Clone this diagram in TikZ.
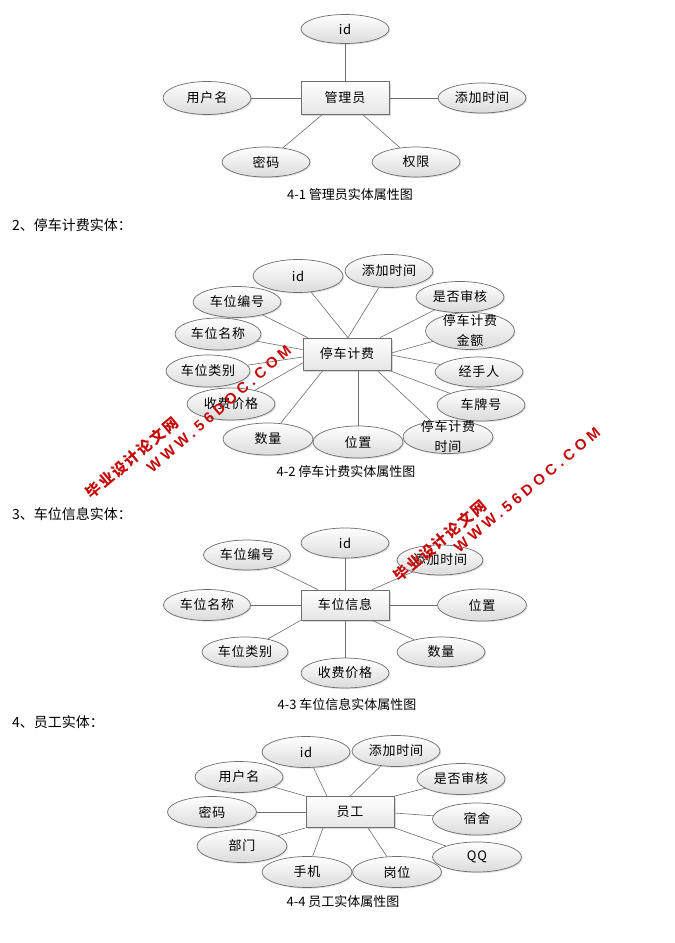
\documentclass[tikz,border=0pt]{standalone}
\usepackage{fontspec}
\usetikzlibrary{shapes.geometric,shadows}
\newfontfamily\cjk{Noto Sans CJK SC}
\newfontfamily\cjklab[LetterSpace=6]{Noto Sans CJK SC}
\newfontfamily\cjkwm[LetterSpace=12]{Noto Sans CJK SC}
\newfontfamily\wmlat[LetterSpace=28]{Liberation Sans}
\definecolor{wmred}{RGB}{196,10,10}
\definecolor{edgegray}{RGB}{110,110,110}
\tikzset{
  attr/.style={ellipse, draw=edgegray, line width=0.7pt, top color=white, bottom color=black!14,
    minimum width=88pt, minimum height=31pt, inner sep=0pt,
    font=\cjklab\fontsize{13}{20}\selectfont, text=black,
    drop shadow={shadow xshift=1.2pt, shadow yshift=-1.2pt, opacity=0.25}},
  ent/.style={rectangle, draw=edgegray, line width=0.7pt, top color=white, bottom color=black!10,
    minimum width=88pt, minimum height=32pt, inner sep=0pt,
    font=\cjklab\fontsize{13}{15}\selectfont, text=black,
    drop shadow={shadow xshift=1.5pt, shadow yshift=-1.5pt, opacity=0.3}},
  conn/.style={draw=edgegray, line width=0.6pt},
  capt/.style={font=\cjk\fontsize{13}{15}\selectfont, text=black, inner sep=0pt},
  headtxt/.style={font=\cjk\fontsize{14}{16}\selectfont, text=black, anchor=west, inner sep=0pt},
  wmlatin/.style={font=\wmlat\bfseries\fontsize{15}{17}\selectfont, text=wmred, inner sep=0pt},
  wmcjk/.style={font=\cjkwm\bfseries\fontsize{15}{17}\selectfont, text=wmred, inner sep=0pt},
  twoline/.style={label={[font=\cjklab\fontsize{13}{20}\selectfont, text=black, align=center]center:#1}}
}
\begin{document}
\begin{tikzpicture}[x=1pt,y=-1pt]
\useasboundingbox[fill=white] (0,0) rectangle (675,943);

% ---------- 4-1 ----------
\node[ent, minimum height=33pt] (b1) at (345,98) {管理员};
\node[attr, minimum height=29pt] (b1id) at (345,29) {id};
\node[attr, minimum height=33pt] (b1yh) at (207,98) {用户名};
\node[attr, minimum height=30pt] (b1tj) at (482,98) {添加时间};
\node[attr, minimum height=30pt] (b1mm) at (266,162) {密码};
\node[attr, minimum height=30pt] (b1qx) at (416,162) {权限};
\draw[conn] (b1id) -- (b1);
\draw[conn] (b1yh) -- (b1);
\draw[conn] (b1tj) -- (b1);
\draw[conn] ([xshift=-23pt]b1.south) -- (b1mm);
\draw[conn] ([xshift=18pt]b1.south) -- (b1qx);
\node[capt] (c1) at (350,195) {4-1 管理员实体属性图};

% ---------- heading 2 ----------
\node[headtxt] (h2) at (12,225) {2、停车计费实体：};

% ---------- 4-2 ----------
\node[ent] (b2) at (347,354) {停车计费};
\node[attr, minimum width=90pt, minimum height=33pt] (b2id) at (298,276) {id};
\node[attr, minimum height=33pt] (b2tj) at (389,271) {添加时间};
\node[attr] (b2sf) at (460,297) {是否审核};
\node[attr] (b2bh) at (237,302) {车位编号};
\node[attr, minimum width=86pt, minimum height=32pt] (b2mc) at (218,334) {车位名称};
\node[attr, minimum width=89pt, minimum height=37pt, twoline={停车计费\\金额}] (b2je) at (470,331) {};
\node[attr, minimum width=84pt, minimum height=32pt] (b2lb) at (208,371) {车位类别};
\node[attr, minimum height=30pt] (b2js) at (479,372) {经手人};
\node[attr, minimum height=32pt] (b2jg) at (231,404) {收费价格};
\node[attr, minimum height=32pt] (b2cp) at (481,405) {车牌号};
\node[attr, minimum width=90pt, minimum height=32pt] (b2sl) at (268,439) {数量};
\node[attr, minimum width=90pt, minimum height=32pt] (b2wz) at (358,442) {位置};
\node[attr, minimum width=90pt, minimum height=33pt, twoline={停车计费\\时间}] (b2sj) at (448,437) {};
\draw[conn] (b2id) -- ([xshift=1pt]b2.north);
\draw[conn] (b2tj) -- ([xshift=1pt]b2.north);
\draw[conn] (b2sf) -- ([xshift=33pt]b2.north);
\draw[conn] (b2bh) -- ([xshift=5pt]b2.north west);
\draw[conn] (b2mc) -- ([yshift=-12pt]b2.north west);
\draw[conn] (b2lb) -- ([yshift=-3pt]b2.west);
\draw[conn] (b2jg) -- ([yshift=-9pt]b2.west);
\draw[conn] (b2sl) -- ([xshift=-24pt]b2.south);
\draw[conn] ([xshift=11pt]b2.south) -- (b2wz);
\draw[conn] (b2sj) -- ([xshift=30pt]b2.south);
\draw[conn] (b2cp) -- ([yshift=-1pt]b2.south east);
\draw[conn] (b2js) -- ([yshift=-1pt]b2.east);
\draw[conn] (b2je) -- ([yshift=1pt]b2.east);
\node[capt] (c2) at (346,472) {4-2 停车计费实体属性图};

% ---------- heading 3 ----------
\node[headtxt] (h3) at (12,514) {3、车位信息实体：};

% ---------- 4-3 ----------
\node[ent, minimum height=30pt] (b3) at (345,605) {车位信息};
\node[attr, minimum height=30pt] (b3id) at (345,543) {id};
\node[attr, minimum width=87pt, minimum height=30pt] (b3bh) at (247,555) {车位编号};
\node[attr, minimum width=86pt, minimum height=30pt] (b3tj) at (440,560) {添加时间};
\node[attr, minimum width=87pt, minimum height=31pt] (b3mc) at (207,605) {车位名称};
\node[attr, minimum width=89pt, minimum height=32pt] (b3wz) at (482,605) {位置};
\node[attr, minimum width=86pt, minimum height=30pt] (b3lb) at (245,652) {车位类别};
\node[attr, minimum width=88pt, minimum height=30pt] (b3sl) at (441,652) {数量};
\node[attr, minimum height=30pt] (b3jg) at (345,673) {收费价格};
\draw[conn] (b3id) -- (b3);
\draw[conn] (b3bh) -- ([xshift=-27pt]b3.north);
\draw[conn] (b3tj) -- ([xshift=27pt]b3.north);
\draw[conn] (b3mc) -- (b3);
\draw[conn] (b3wz) -- (b3);
\draw[conn] (b3lb) -- (b3.south west);
\draw[conn] (b3sl) -- ([xshift=27pt]b3.south);
\draw[conn] (b3jg) -- (b3);
\node[capt] (c3) at (347,705) {4-3 车位信息实体属性图};

% ---------- heading 4 ----------
\node[headtxt] (h4) at (12,722) {4、员工实体：};

% ---------- 4-4 ----------
\node[ent, minimum height=31pt] (b4) at (350,812) {员工};
\node[attr] (b4id) at (306,752) {id};
\node[attr] (b4tj) at (396,751) {添加时间};
\node[attr] (b4yh) at (239,777) {用户名};
\node[attr] (b4sf) at (461,779) {是否审核};
\node[attr, minimum width=89pt] (b4mm) at (212,812) {密码};
\node[attr, minimum width=89pt, minimum height=32pt] (b4ss) at (477,819) {宿舍};
\node[attr, minimum width=90pt, minimum height=33pt] (b4bm) at (242,846) {部门};
\node[attr, minimum width=89pt, minimum height=30pt] (b4qq) at (477,857) {QQ};
\node[attr, minimum width=90pt] (b4sj) at (307,872) {手机};
\node[attr, minimum width=89pt] (b4gw) at (397,872) {岗位};
\draw[conn] (b4id) -- ([xshift=-23pt]b4.north);
\draw[conn] (b4tj) -- (b4.north);
\draw[conn] (b4yh) -- (b4.north west);
\draw[conn] (b4sf) -- (b4.north east);
\draw[conn] (b4mm) -- (b4);
\draw[conn] (b4ss) -- ([yshift=-1pt]b4.east);
\draw[conn] (b4bm) -- (b4.south west);
\draw[conn] (b4qq) -- (b4.south east);
\draw[conn] (b4sj) -- ([xshift=-27pt]b4.south);
\draw[conn] (b4gw) -- ([xshift=18pt]b4.south);
\node[capt] (c4) at (343,902) {4-4 员工实体属性图};

% ---------- watermarks ----------
\node[wmlatin, rotate=41] (wm1a) at (219,409) {WWW.56DOC.COM};
\node[wmcjk, rotate=40] (wm1b) at (132,458) {毕业设计论文网};
\node[wmlatin, rotate=40] (wm2a) at (527,490) {WWW.56DOC.COM};
\node[wmcjk, rotate=40] (wm2b) at (440,541) {毕业设计论文网};
\end{tikzpicture}
\end{document}
